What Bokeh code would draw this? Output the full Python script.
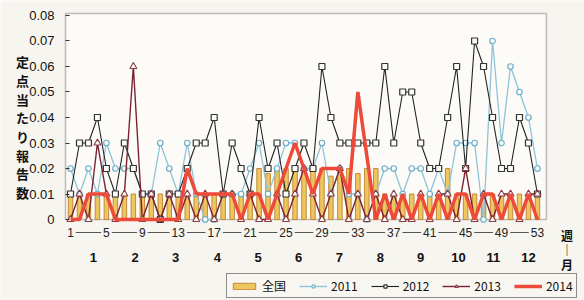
from bokeh.plotting import figure
from bokeh.models import Range1d, FixedTicker, BoxAnnotation, Label, Legend, LegendItem
from bokeh.core.properties import value
from bokeh.embed import file_html
from bokeh.resources import INLINE

weeks = list(range(1, 54))

national = [0.01, 0.01, 0.01, 0.01, 0.01, 0.01, 0.01, 0.01, 0.01, 0.01,
            0.01, 0.01, 0.01, 0.01, 0.01, 0.01, 0.01, 0.01, 0.01, 0.01,
            0.01, 0.02, 0.018, 0.02, 0.02, 0.02, 0.02, 0.02, 0.02, 0.017,
            0.02, 0.02, 0.018, 0.02, 0.02, 0.01, 0.01, 0.01, 0.01, 0.01,
            0.01, 0.01, 0.02, 0.01, 0.01, 0.01, 0.01, 0.01, 0.01, 0.01,
            0.01, 0.01, 0.01]

y2011 = [0.02, 0.01, 0.02, 0.01, 0.03, 0.02, 0.02, 0.02, 0.01, 0.01,
         0.03, 0.02, 0.01, 0.03, 0.01, 0.0, 0.0, 0.01, 0.01, 0.01,
         0.02, 0.03, 0.01, 0.02, 0.03, 0.03, 0.02, 0.02, 0.03, 0.01,
         0.02, 0.01, 0.01, 0.0, 0.01, 0.02, 0.02, 0.01, 0.02, 0.02,
         0.01, 0.02, 0.01, 0.03, 0.03, 0.03, 0.0, 0.07, 0.03, 0.06,
         0.05, 0.04, 0.02]

y2012 = [0.01, 0.03, 0.03, 0.04, 0.02, 0.01, 0.03, 0.02, 0.01, 0.01,
         0.0, 0.01, 0.01, 0.02, 0.03, 0.03, 0.04, 0.01, 0.03, 0.02,
         0.01, 0.04, 0.02, 0.03, 0.01, 0.02, 0.03, 0.02, 0.06, 0.04,
         0.03, 0.03, 0.03, 0.03, 0.03, 0.06, 0.03, 0.05, 0.05, 0.03,
         0.02, 0.02, 0.04, 0.06, 0.02, 0.07, 0.06, 0.04, 0.02, 0.02,
         0.04, 0.03, 0.01]

y2013 = [0.0, 0.01, 0.0, 0.03, 0.01, 0.0, 0.01, 0.06, 0.0, 0.01,
         0.0, 0.01, 0.0, 0.01, 0.0, 0.01, 0.0, 0.01, 0.01, 0.0,
         0.01, 0.0, 0.0, 0.01, 0.0, 0.01, 0.02, 0.01, 0.0, 0.01,
         0.02, 0.0, 0.01, 0.0, 0.01, 0.0, 0.01, 0.0, 0.0, 0.01,
         0.0, 0.01, 0.01, 0.0, 0.02, 0.0, 0.01, 0.0, 0.01, 0.01,
         0.0, 0.01, 0.01]

y2014 = [0.0, 0.0, 0.01, 0.01, 0.01, 0.0, 0.0, 0.0, 0.0, 0.0,
         0.0, 0.0, 0.0, 0.02, 0.01, 0.01, 0.01, 0.01, 0.01, 0.0,
         0.01, 0.01, 0.0, 0.01, 0.02, 0.03, 0.02, 0.01, 0.02, 0.02,
         0.02, 0.01, 0.05, 0.025, 0.0, 0.01, 0.0, 0.01, 0.0, 0.01,
         0.0, 0.01, 0.0, 0.01, 0.01, 0.0, 0.01, 0.01, 0.0, 0.01,
         0.0, 0.01, 0.0]

week_ticks = [1, 5, 9, 13, 17, 21, 25, 29, 33, 37, 41, 45, 49, 53]
week_labels = ["1", "5", "9", "13", "17", "21", "25", "29", "33", "37", "41", "45", "49", "53"]
month_pos = [3.56, 8.2, 12.7, 17.35, 21.9, 26.4, 30.95, 35.5, 40.0, 44.2, 48.1, 52.0]
month_labels = ["1", "2", "3", "4", "5", "6", "7", "8", "9", "10", "11", "12"]
ytick_values = [0, 0.01, 0.02, 0.03, 0.04, 0.05, 0.06, 0.07, 0.08]
ytick_labels = ["0", "0.01", "0.02", "0.03", "0.04", "0.05", "0.06", "0.07", "0.08"]
series_names = ["全国", "2011", "2012", "2013", "2014"]
y_title = "定\n点\n当\nた\nり\n報\n告\n数"
x_title = "週\n｜\n月"

PAGE_BG = "#f7f5ef"
PLOT_BG = "#fcfbf8"
FONT = "Liberation Sans"
JFONT = "Noto Sans CJK JP"

# layout positions (data units of the full-canvas frame)
BOX_LEFT, BOX_RIGHT, BOX_TOP, BOX_BOTTOM = 0.443, 54.0, 0.0808, 0.0
WEEK_ROW_Y = -0.0051

p = figure(width=584, height=300, output_backend="svg", toolbar_location=None,
           title=None,
           x_range=Range1d(-6.795, 58.24), y_range=Range1d(-0.03176, 0.08588),
           min_border=0, min_border_left=0, min_border_right=0,
           min_border_top=0, min_border_bottom=0,
           background_fill_color=PAGE_BG, border_fill_color=PAGE_BG,
           outline_line_color=None)
p.grid.visible = False

box = BoxAnnotation(left=BOX_LEFT, right=BOX_RIGHT, top=BOX_TOP, bottom=BOX_BOTTOM,
                    fill_color=PLOT_BG, fill_alpha=1.0,
                    line_color="#333333", line_width=1.5, level="underlay")
p.add_layout(box)

# y axis
p.yaxis.fixed_location = BOX_LEFT
p.yaxis.ticker = FixedTicker(ticks=ytick_values)
p.yaxis.major_label_overrides = dict(zip(ytick_values, ytick_labels))
p.yaxis.axis_line_color = None
p.yaxis.major_tick_in = 4
p.yaxis.major_tick_out = 0
p.yaxis.major_tick_line_color = "#333333"
p.yaxis.minor_tick_line_color = None
p.yaxis.major_label_standoff = 11
p.yaxis.major_label_text_font = FONT
p.yaxis.major_label_text_font_size = "13px"
p.yaxis.major_label_text_color = "#111111"

# x axis (months)
p.xaxis.fixed_location = BOX_BOTTOM
p.xaxis.ticker = FixedTicker(ticks=month_pos)
p.xaxis.major_label_overrides = dict(zip(month_pos, month_labels))
p.xaxis.axis_line_color = None
p.xaxis.major_tick_line_color = None
p.xaxis.major_tick_in = 0
p.xaxis.major_tick_out = 0
p.xaxis.minor_tick_line_color = None
p.xaxis.major_label_standoff = 33
p.xaxis.major_label_text_font = FONT
p.xaxis.major_label_text_font_style = "bold"
p.xaxis.major_label_text_font_size = "13px"
p.xaxis.major_label_text_color = "#111111"

# week row
p.line(x=[week_ticks[0], week_ticks[-1]], y=[WEEK_ROW_Y, WEEK_ROW_Y],
       line_color="#555555", line_width=1.2)
p.text(x=week_ticks, y=[WEEK_ROW_Y] * len(week_ticks), text=week_labels,
       text_align="center", text_baseline="middle", text_font=value(FONT),
       text_font_size="12px", text_color="#222222",
       background_fill_color=PAGE_BG, padding=2)

# data
r_bar = p.vbar(x=weeks, top=national, bottom=0, width=0.5,
               fill_color="#eec65e", line_color="#c4883a", line_width=1)

r11l = p.line(weeks, y2011, line_color="#8ec3d8", line_width=1.3)
r11m = p.scatter(weeks, y2011, marker="circle", size=5.5, line_color="#6aaecb",
                 fill_color=PLOT_BG, line_width=1.2)
r12l = p.line(weeks, y2012, line_color="#222222", line_width=1.1)
r12m = p.scatter(weeks, y2012, marker="square", size=6, line_color="#333333",
                 fill_color=PLOT_BG, line_width=1.2)
r13l = p.line(weeks, y2013, line_color="#7b2232", line_width=1.4)
r13m = p.scatter(weeks, y2013, marker="triangle", size=7, line_color="#8a3a44",
                 fill_color=PLOT_BG, line_width=1.1)
r14l = p.line(weeks, y2014, line_color="#ee4a3a", line_width=3.5)

# axis titles
p.add_layout(Label(x=-4.35, y=0.0655, text=y_title, text_align="center",
                   text_baseline="top", text_font=JFONT, text_font_size="13px",
                   text_font_style="bold", text_line_height=0.98, text_color="#111111"))
p.add_layout(Label(x=56.3, y=-0.0030, text=x_title, text_align="center",
                   text_baseline="top", text_font=JFONT, text_font_size="12px",
                   text_font_style="bold", text_line_height=0.84, text_color="#111111"))

legend = Legend(items=[
    LegendItem(label=series_names[0], renderers=[r_bar]),
    LegendItem(label=series_names[1], renderers=[r11l, r11m]),
    LegendItem(label=series_names[2], renderers=[r12l, r12m]),
    LegendItem(label=series_names[3], renderers=[r13l, r13m]),
    LegendItem(label=series_names[4], renderers=[r14l]),
], orientation="horizontal", location=(226, 2))
legend.border_line_color = "#222222"
legend.border_line_width = 1.5
legend.background_fill_color = "#f8f6f0"
legend.background_fill_alpha = 1.0
legend.glyph_width = 28
legend.glyph_height = 8
legend.label_standoff = 4
legend.spacing = 13
legend.padding = 3
legend.margin = 0
legend.label_height = 12
legend.label_text_font = JFONT
legend.label_text_font_size = "12px"
legend.label_text_color = "#111111"
p.add_layout(legend)

open("out.html", "w").write(file_html(p, INLINE))
